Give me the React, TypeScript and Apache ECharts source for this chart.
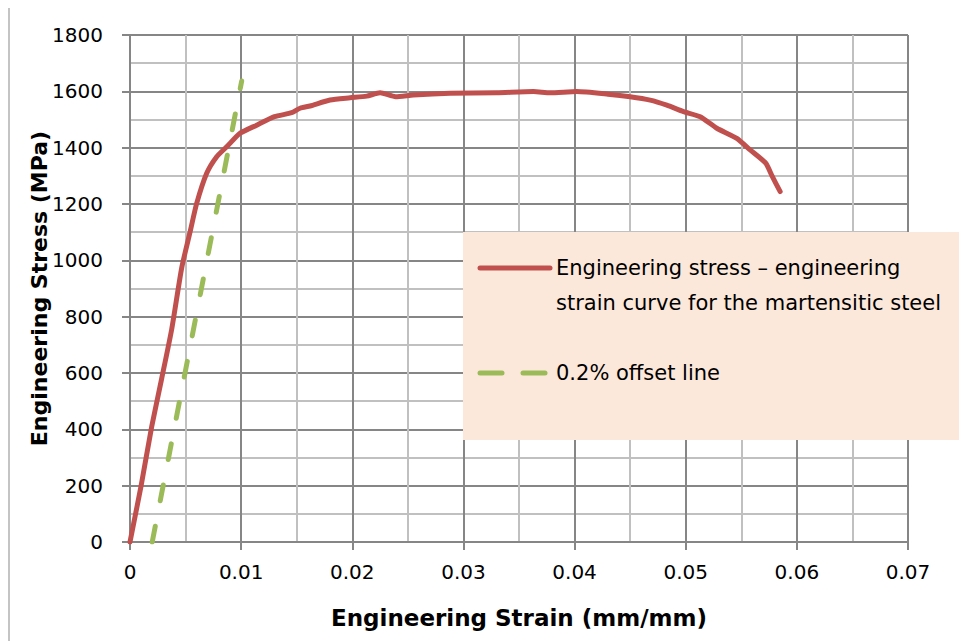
import React, { useEffect, useRef } from "react";
import * as echarts from "echarts";

const strain = [0, 0.0010, 0.00195, 0.00285, 0.00375, 0.00465, 0.0054, 0.0060, 0.0069, 0.0078, 0.0087, 0.0099, 0.0114, 0.0130, 0.01455, 0.0153, 0.0162, 0.0180, 0.0198, 0.0213, 0.0225, 0.0239, 0.0255, 0.0288, 0.0330, 0.0363, 0.0378, 0.0402, 0.0430, 0.0450, 0.0468, 0.0483, 0.0498, 0.0513, 0.0528, 0.0546, 0.0558, 0.0572, 0.0578, 0.0585];
const stress = [0, 200, 409, 580, 755, 973, 1100, 1202, 1309, 1368, 1403, 1451, 1480, 1510, 1524, 1540, 1548, 1569, 1577, 1583, 1595, 1581, 1587, 1593, 1595, 1599, 1595, 1599, 1590, 1581, 1569, 1551, 1528, 1510, 1469, 1433, 1392, 1345, 1297, 1244];

const offsetStrain = [0.002, 0.01005];
const offsetStress = [0, 1637];

const xTicks = { min: 0, max: 0.07, interval: 0.01 };
const yTicks = { min: 0, max: 1800, interval: 200 };

const seriesNames = [
  "Engineering stress – engineering strain curve for the martensitic steel",
  "0.2% offset line",
];
const legendLines = ["Engineering stress – engineering", "strain curve for the martensitic steel"];
const legendOffset = "0.2% offset line";

const FONT = "'DejaVu Sans', sans-serif";
const RED = "#C0504D";
const GREEN = "#9BBB59";
const MAJOR = "#868686";
const MINOR = "#C0C0C0";

export default function App() {
  const ref = useRef<HTMLDivElement>(null);
  useEffect(() => {
    if (!ref.current) return;
    const chart = echarts.init(ref.current, undefined, { renderer: "svg" });
    const fmtX = (v: number) => (v === 0 ? "0" : String(+v.toFixed(2)));
    const fmtY = (v: number) => String(Math.round(v));
    chart.setOption({
      animation: false,
      backgroundColor: "#ffffff",
      textStyle: { fontFamily: FONT },
      grid: { left: 122, top: 27, width: 778, height: 507, containLabel: false },
      xAxis: {
        type: "value",
        min: xTicks.min,
        max: xTicks.max,
        interval: xTicks.interval,
        name: "Engineering Strain (mm/mm)",
        nameLocation: "middle",
        nameGap: 64,
        nameMoveOverlap: false,
        nameTextStyle: { fontFamily: FONT, fontWeight: "bold", fontSize: 23, color: "#000" },
        axisLine: { show: true, lineStyle: { color: MAJOR, width: 2 } },
        axisTick: { show: true, length: 8, lineStyle: { color: MAJOR, width: 2 } },
        axisLabel: { fontFamily: FONT, fontSize: 20, color: "#000", margin: 20, formatter: fmtX },
        splitLine: { show: true, lineStyle: { color: MAJOR, width: 2 } },
        minorTick: { show: false, splitNumber: 2 },
        minorSplitLine: { show: true, lineStyle: { color: MINOR, width: 2 } },
      },
      yAxis: {
        type: "value",
        min: yTicks.min,
        max: yTicks.max,
        interval: yTicks.interval,
        name: "Engineering Stress (MPa)",
        nameLocation: "middle",
        nameGap: 80,
        nameRotate: 90,
        nameMoveOverlap: false,
        nameTextStyle: { fontFamily: FONT, fontWeight: "bold", fontSize: 22, color: "#000" },
        axisLine: { show: true, lineStyle: { color: MAJOR, width: 2 } },
        axisTick: { show: true, length: 8, lineStyle: { color: MAJOR, width: 2 } },
        axisLabel: { fontFamily: FONT, fontSize: 20, color: "#000", margin: 27, formatter: fmtY },
        splitLine: { show: true, lineStyle: { color: MAJOR, width: 2 } },
        minorTick: { show: false, splitNumber: 2 },
        minorSplitLine: { show: true, lineStyle: { color: MINOR, width: 2 } },
      },
      series: [
        {
          name: seriesNames[0],
          type: "line",
          data: strain.map((x, i) => [x, stress[i]]),
          showSymbol: false,
          symbol: "none",
          smooth: 0.2,
          lineStyle: { color: RED, width: 5, cap: "round", join: "round" },
          z: 3,
        },
        {
          name: seriesNames[1],
          type: "line",
          data: offsetStrain.map((x, i) => [x, offsetStress[i]]),
          showSymbol: false,
          symbol: "none",
          lineStyle: { color: GREEN, width: 5, type: [16, 26], cap: "round" },
          z: 4,
        },
      ],
      graphic: [
        {
          type: "rect",
          x: 1,
          y: -1,
          shape: { x: 0, y: 0, width: 1000, height: 1000 },
          style: { fill: "none", stroke: "#898989", lineWidth: 1 },
          silent: true,
          z: 0,
        },
        {
          type: "rect",
          x: 455,
          y: 224,
          z: 100,
          shape: { x: 0, y: 0, width: 500, height: 208 },
          style: { fill: "#FCE8DA", stroke: "none" },
        },
        {
          type: "line",
          z: 101,
          shape: { x1: 472, y1: 260, x2: 542, y2: 260 },
          style: { stroke: RED, lineWidth: 5, lineCap: "round" },
        },
        {
          type: "text",
          z: 101,
          x: 548,
          y: 260,
          style: { text: legendLines[0], font: `21px ${FONT}`, fill: "#000", verticalAlign: "middle" },
        },
        {
          type: "text",
          z: 101,
          x: 548,
          y: 295,
          style: { text: legendLines[1], font: `21px ${FONT}`, fill: "#000", verticalAlign: "middle" },
        },
        {
          type: "line",
          z: 101,
          shape: { x1: 472, y1: 365, x2: 494, y2: 365 },
          style: { stroke: GREEN, lineWidth: 5, lineCap: "round" },
        },
        {
          type: "line",
          z: 101,
          shape: { x1: 515, y1: 365, x2: 537, y2: 365 },
          style: { stroke: GREEN, lineWidth: 5, lineCap: "round" },
        },
        {
          type: "text",
          z: 101,
          x: 548,
          y: 365,
          style: { text: legendOffset, font: `21px ${FONT}`, fill: "#000", verticalAlign: "middle" },
        },
      ],
    });
    return () => chart.dispose();
  }, []);
  return <div ref={ref} style={{ width: 959, height: 633 }} />;
}
